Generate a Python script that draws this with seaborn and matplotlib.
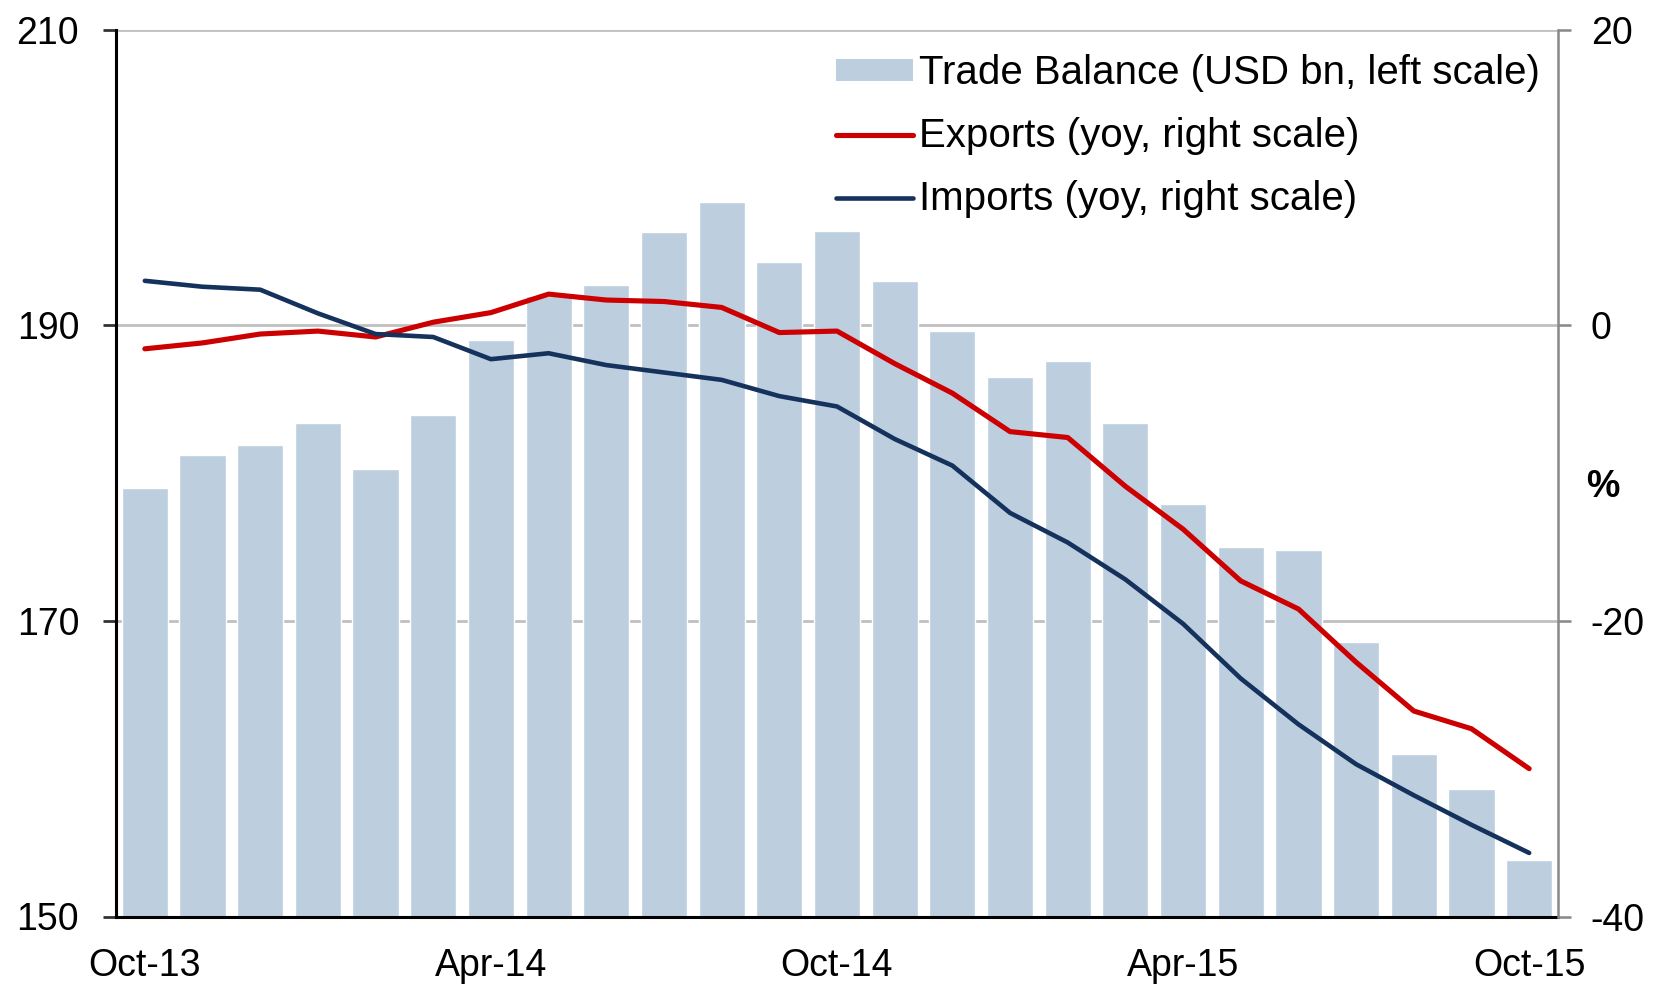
import pandas as pd
import seaborn as sns
import matplotlib.pyplot as plt
from matplotlib.patches import Patch
from matplotlib.lines import Line2D

# monthly data, Oct-13 .. Oct-15
months = ["Oct-13", "Nov-13", "Dec-13", "Jan-14", "Feb-14", "Mar-14", "Apr-14",
          "May-14", "Jun-14", "Jul-14", "Aug-14", "Sep-14", "Oct-14", "Nov-14",
          "Dec-14", "Jan-15", "Feb-15", "Mar-15", "Apr-15", "May-15", "Jun-15",
          "Jul-15", "Aug-15", "Sep-15", "Oct-15"]
trade_balance = [179.0, 181.2, 181.9, 183.4, 180.3, 183.9, 189.0, 192.0, 192.7,
                 196.3, 198.3, 194.3, 196.4, 193.0, 189.6, 186.5, 187.6, 183.4,
                 177.9, 175.0, 174.8, 168.6, 161.0, 158.6, 153.8]
exports_yoy = [-1.6, -1.2, -0.6, -0.4, -0.8, 0.2, 0.85, 2.1, 1.7, 1.6, 1.2, -0.5,
               -0.4, -2.6, -4.6, -7.2, -7.6, -10.9, -13.8, -17.3, -19.2, -22.8,
               -26.1, -27.3, -30.0]
imports_yoy = [3.0, 2.6, 2.4, 0.8, -0.6, -0.8, -2.3, -1.9, -2.7, -3.2, -3.7, -4.8,
               -5.5, -7.7, -9.5, -12.7, -14.7, -17.2, -20.2, -23.9, -27.0, -29.7,
               -31.8, -33.8, -35.7]
tick_labels = ["Oct-13", "Apr-14", "Oct-14", "Apr-15", "Oct-15"]

BAR_COL = "#BDCEDF"
RED = "#CC0000"
NAVY = "#14325C"

sns.set_style("white")
plt.rcParams["font.family"] = ["Liberation Sans", "DejaVu Sans"]
plt.rcParams["axes.unicode_minus"] = False
plt.rcParams["text.color"] = "black"
plt.rcParams["xtick.color"] = "black"
plt.rcParams["ytick.color"] = "black"
FS = 27

df = pd.DataFrame({"month": months, "balance": trade_balance,
                   "exports": exports_yoy, "imports": imports_yoy})
df["pos"] = range(len(df))

fig = plt.figure(figsize=(16.55, 9.85), dpi=100)
ax = fig.add_axes([116 / 1655, (985 - 916.5) / 985, 1442 / 1655, 887 / 985])

ax.set_axisbelow(True)
ax.grid(axis="y", color="#C0C0C0", linewidth=2)
sns.barplot(data=df, x="month", y="balance", color=BAR_COL, saturation=1,
            width=0.8, ax=ax, zorder=2)
ax.set_ylim(150, 210)
ax.set_yticks([150, 170, 190, 210])
ax.set_xticks([months.index(m) for m in tick_labels])
ax.set_xticklabels(tick_labels)
ax.set_xlabel("")
ax.set_ylabel("")

ax2 = ax.twinx()
sns.lineplot(data=df, x="pos", y="exports", color=RED, linewidth=3.7, ax=ax2)
sns.lineplot(data=df, x="pos", y="imports", color=NAVY, linewidth=3.3, ax=ax2)
ax2.set_ylim(-40, 20)
ax2.set_yticks([-40, -20, 0, 20])
ax2.set_xlim(-0.5, len(months) - 0.5)
ax2.set_xlabel("")
ax2.set_ylabel("")

for s in ["top", "right"]:
    ax.spines[s].set_visible(False)
for s in ["left", "bottom"]:
    ax.spines[s].set_color("black")
    ax.spines[s].set_linewidth(2.2)
for s in ["top", "left", "bottom"]:
    ax2.spines[s].set_visible(False)
ax2.spines["right"].set_color("#888888")
ax2.spines["right"].set_linewidth(1.8)

ax.tick_params(axis="y", direction="out", length=9.5, width=2, color="#333333",
               labelcolor="black", labelsize=FS, pad=17, left=True)
ax.tick_params(axis="x", length=0, labelsize=FS, labelcolor="black", pad=23)
ax2.tick_params(axis="y", direction="out", length=9.5, width=1.8, color="#888888",
                labelcolor="black", labelsize=FS, pad=14, right=True)

ax2.text(1603, 985 - 487, "%", transform=None, fontsize=FS, fontweight="bold",
         color="black", ha="center", va="center")

handles = [Patch(facecolor=BAR_COL, edgecolor="none"),
           Line2D([], [], color=RED, linewidth=3.7),
           Line2D([], [], color=NAVY, linewidth=3.3)]
labels = ["Trade Balance (USD bn, left scale)", "Exports (yoy, right scale)",
          "Imports (yoy, right scale)"]
leg = ax2.legend(handles, labels, loc="upper left",
                 bbox_to_anchor=((836 - 116) / 1442, 0.972),
                 frameon=False, fontsize=29, handlelength=1.9, handleheight=0.45,
                 handletextpad=0.15, labelspacing=0.62, borderpad=0, borderaxespad=0)
for t in leg.get_texts():
    t.set_color("black")

fig.savefig("out.png", dpi=100)
